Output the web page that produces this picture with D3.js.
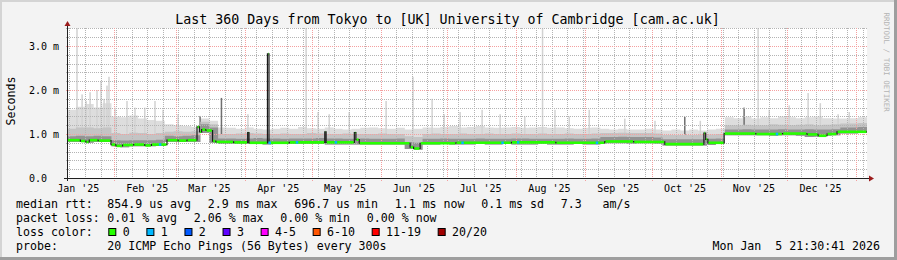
<!DOCTYPE html>
<html>
<head>
<meta charset="utf-8">
<script src="https://cdn.jsdelivr.net/npm/d3@7"></script>
<style>
  body { margin: 0; background: #f3f3f3; }
  svg { display: block; }
  text { font-family: "DejaVu Sans Mono", monospace; white-space: pre; }
</style>
</head>
<body>
<div id="chart"></div>
<script>
// time span of the graph (360 days ending at the render time)
const startTime = new Date(2025, 0, 10, 21, 30, 41);
const endTime = new Date(2026, 0, 5, 21, 30, 41);

const titleText = "Last 360 Days from Tokyo to [UK] University of Cambridge [cam.ac.uk]";
const monthLabels = ["Jan '25", "Feb '25", "Mar '25", "Apr '25", "May '25", "Jun '25",
  "Jul '25", "Aug '25", "Sep '25", "Oct '25", "Nov '25", "Dec '25"];
const yTickValues = [0, 1, 2, 3];
const yTickLabels = ["0.0", "1.0 m", "2.0 m", "3.0 m"];

// median rtt (ms), step points: day offset from start -> value
const medianDay = [0, 6, 8.5, 10, 14, 19.8, 22, 25, 30, 35, 38, 45, 50, 54, 58.5, 59.6, 60.6, 62.5,
  65.5, 67, 75, 81.3, 81.9, 90.2, 90.9, 100, 116, 116.6, 129.3, 130, 131.5, 154.4, 156, 158.9,
  175, 200, 220, 242, 255, 269, 286.6, 287.4, 288.4, 295.7, 310, 322, 333, 338, 342, 346.5, 360];
const medianMs = [0.86, 0.84, 0.82, 0.86, 0.85, 0.76, 0.73, 0.75, 0.76, 0.74, 0.76, 0.86, 0.85, 0.86, 1.16, 1.05, 1.10, 1.08,
  0.84, 0.82, 0.81, 1.03, 0.80, 2.82, 0.80, 0.81, 1.05, 0.81, 1.03, 0.87, 0.79, 0.70, 0.67, 0.79,
  0.80, 0.81, 0.80, 0.83, 0.82, 0.77, 1.02, 0.88, 0.80, 1.01, 1.00, 1.01, 0.99, 0.96, 1.00, 1.05, 1.05];

// smoke bands (ms), one value every 4 days from day 0 to day 360
const smokeStepDays = 4;
const smokeLo = [0.82, 0.82, 0.80, 0.82, 0.82,
  0.72, 0.70, 0.72, 0.72, 0.72, 0.73,
  0.82, 0.82, 0.82, 0.82,
  1.02, 0.80,
  0.77, 0.77, 0.77, 0.77, 0.77, 0.76, 0.77, 0.77, 0.77, 0.77, 0.77, 0.77, 0.76, 0.76, 0.76, 0.76, 0.76, 0.76, 0.76, 0.76, 0.76,
  0.66, 0.64,
  0.76, 0.76, 0.77, 0.76, 0.76, 0.76, 0.77, 0.76, 0.76, 0.77, 0.76, 0.76, 0.76, 0.77, 0.76, 0.76, 0.76, 0.77, 0.76, 0.76,
  0.79, 0.79, 0.79, 0.78, 0.79, 0.79, 0.78,
  0.74, 0.74, 0.74, 0.74, 0.74, 0.75, 0.77,
  0.97, 0.97, 0.97, 0.97, 0.97, 0.96, 0.97, 0.97, 0.96, 0.93, 0.94, 0.96, 0.97,
  1.01, 1.01, 1.02, 1.02];
const smokeDark = [0.95, 0.96, 0.95, 0.96, 0.95,
  0.86, 0.85, 0.86, 0.86, 0.86, 0.87,
  0.96, 0.95, 0.96, 0.97,
  1.22, 1.15,
  0.90, 0.90, 0.89, 0.90, 0.91, 0.90, 0.90, 0.89, 0.90, 0.90, 0.90, 0.91, 0.90, 0.90, 0.89, 0.89, 0.90, 0.89, 0.89, 0.89, 0.90,
  0.82, 0.80,
  0.89, 0.89, 0.90, 0.89, 0.89, 0.89, 0.90, 0.89, 0.89, 0.89, 0.90, 0.90, 0.89, 0.89, 0.89, 0.89, 0.90, 0.89, 0.89, 0.90,
  0.93, 0.93, 0.94, 0.93, 0.93, 0.93, 0.92,
  0.88, 0.88, 0.88, 0.88, 0.88, 0.89, 0.90,
  1.10, 1.10, 1.11, 1.10, 1.10, 1.10, 1.11, 1.10, 1.10, 1.11, 1.10, 1.10, 1.11,
  1.15, 1.15, 1.16, 1.16];
const smokeMid = [1.12, 1.15, 1.15, 1.13, 1.15,
  1.02, 1.00, 1.03, 1.02, 1.00, 1.02,
  1.05, 1.06, 1.05, 1.06,
  1.28, 1.22,
  1.00, 1.00, 1.01, 1.02, 1.01, 1.00, 1.00, 1.01, 1.00, 1.00, 1.02, 1.01, 1.00, 1.00, 1.01, 1.00, 1.00, 1.00, 1.01, 1.00, 1.00,
  0.95, 0.93,
  1.00, 1.01, 1.00, 1.00, 1.01, 1.00, 1.00, 1.01, 1.00, 1.00, 1.01, 1.00, 1.00, 1.01, 1.00, 1.00, 1.01, 1.00, 1.00, 1.01,
  1.02, 1.02, 1.03, 1.02, 1.02, 1.02, 1.01,
  0.98, 0.98, 0.98, 0.98, 0.99, 0.99, 1.00,
  1.20, 1.20, 1.21, 1.20, 1.20, 1.22, 1.21, 1.20, 1.21, 1.22, 1.20, 1.21, 1.22,
  1.24, 1.24, 1.25, 1.25];
const smokeHi = [1.55, 1.62, 1.68, 1.60, 1.70,
  1.40, 1.38, 1.42, 1.35, 1.32, 1.30,
  1.22, 1.20, 1.18, 1.16,
  1.35, 1.30,
  1.15, 1.14, 1.12, 1.15, 1.12, 1.10, 1.12, 1.14, 1.12, 1.16, 1.13, 1.12, 1.15, 1.12, 1.10, 1.12, 1.14, 1.15, 1.13, 1.12, 1.14,
  1.10, 1.12,
  1.15, 1.14, 1.16, 1.18, 1.15, 1.16, 1.18, 1.15, 1.14, 1.15, 1.16, 1.14, 1.15, 1.16, 1.14, 1.15, 1.13, 1.12, 1.14, 1.15,
  1.12, 1.10, 1.12, 1.10, 1.10, 1.12, 1.10,
  1.08, 1.10, 1.08, 1.10, 1.08, 1.10, 1.12,
  1.38, 1.36, 1.40, 1.35, 1.38, 1.36, 1.40, 1.38, 1.36, 1.38, 1.40, 1.36, 1.35,
  1.35, 1.36, 1.38, 1.38];

// single high pings (day offset, top in ms, shade)
const spikeDay = [4.5, 6.8, 8.6, 10.4, 13.5, 15.3, 16.7, 18, 18.9, 21.6, 27, 30.6, 35, 39.6, 43.2, 50,
  59.9, 69.5, 81.4, 107.6, 113, 118, 127, 143.6, 155.7, 164.3, 169.7, 176.9, 186.8, 194.9, 206,
  214, 219.6, 226, 235, 251, 264.6, 278, 285, 304.7, 311, 316, 325, 333.5, 339, 347, 352];
const spikeTop = [3.41, 1.90, 1.75, 1.95, 2.00, 2.20, 1.80, 2.10, 2.30, 1.60, 1.75, 1.60, 1.60, 1.75, 1.55, 1.45,
  1.41, 1.82, 1.45, 3.41, 1.50, 1.45, 1.50, 1.75, 2.30, 1.80, 1.45, 1.50, 1.55, 1.45, 1.40,
  3.41, 1.55, 1.40, 1.55, 1.35, 1.30, 1.39, 1.30, 1.60, 3.41, 1.55, 1.65, 1.93, 1.70, 1.45, 1.50];
const spikeShade = ["l", "l", "l", "l", "l", "l", "l", "l", "l", "l", "l", "l", "l", "l", "l", "l",
  "d", "d", "l", "l", "l", "l", "l", "l", "l", "l", "l", "l", "l", "l", "l",
  "l", "l", "l", "l", "l", "l", "d", "l", "d", "l", "l", "l", "l", "l", "l", "l"];

// samples with packet loss (day offset, lost pings)
const lossDay = [41.9, 91.2, 103.5, 121, 178, 196, 203, 238.5, 319.5];
const lossCount = [1, 1, 1, 1, 1, 1, 1, 1, 1];

const lossLabels = ["0", "1", "2", "3", "4-5", "6-10", "11-19", "20/20"];
const lossColors = ["#26ff00", "#00b8ff", "#0059ff", "#5e00ff", "#ff00ff", "#ff5500", "#ff0000", "#a10000"];

const rttStats = ["854.9 us avg", "2.9 ms max", "696.7 us min", "1.1 ms now", "0.1 ms sd", "7.3   am/s"];
const lossStats = ["0.01 % avg", "2.06 % max", "0.00 % min", "0.00 % now"];
const probeText = "20 ICMP Echo Pings (56 Bytes) every 300s";
const stampText = "Mon Jan  5 21:30:41 2026";

// ---------------------------------------------------------------------------
const W = 897, H = 260;
const plot = { left: 67, right: 867, top: 28, bottom: 178 };
const dayMs = 86400000;
const toDate = d => new Date(startTime.getTime() + d * dayMs);

const svg = d3.select("#chart").append("svg")
  .attr("width", W).attr("height", H);

// dotted grid patterns (1px on, 1px off)
const defs = svg.append("defs");
const dotPattern = (id, w, h, color) => defs.append("pattern")
  .attr("id", id).attr("patternUnits", "userSpaceOnUse")
  .attr("width", w).attr("height", h)
  .append("rect").attr("width", 1).attr("height", 1).attr("fill", color);
dotPattern("hGray", 2, 1, "#b4b4b4");
dotPattern("vGray", 1, 2, "#b4b4b4");
dotPattern("hRed", 2, 1, "#f4a0a0");
dotPattern("vRed", 1, 2, "#f4a0a0");

// background and frame
svg.append("rect").attr("width", W).attr("height", H).attr("fill", "#f3f3f3");
svg.append("rect").attr("x", 0).attr("y", 0).attr("width", W).attr("height", 2).attr("fill", "#d4d4d4");
svg.append("rect").attr("x", 0).attr("y", 0).attr("width", 2).attr("height", H).attr("fill", "#d4d4d4");
svg.append("rect").attr("x", W - 3).attr("y", 0).attr("width", 3).attr("height", H).attr("fill", "#9e9e9e");
svg.append("rect").attr("x", 0).attr("y", H - 3).attr("width", W).attr("height", 3).attr("fill", "#9e9e9e");

svg.append("rect")
  .attr("x", plot.left).attr("y", plot.top)
  .attr("width", plot.right - plot.left).attr("height", plot.bottom - plot.top)
  .attr("fill", "#ffffff");

const x = d3.scaleTime().domain([startTime, endTime]).range([plot.left, plot.right]);
const y = d3.scaleLinear().domain([0, 150 / 44]).range([plot.bottom, plot.top]);

// smoke
const smokeData = smokeLo.map((lo, i) => ({
  t: toDate(i * smokeStepDays), lo, dark: smokeDark[i], mid: smokeMid[i], hi: smokeHi[i]
}));
const band = key => d3.area().curve(d3.curveStepAfter)
  .x(d => x(d.t)).y0(d => y(d.lo)).y1(d => y(d[key]));

const medianPts = medianDay.map((d, i) => ({ t: toDate(d), v: medianMs[i] }));
const medianAt = d => medianPts[Math.max(0, d3.bisectRight(medianDay, d) - 1)].v;

svg.append("path").datum(smokeData).attr("d", band("hi")).attr("fill", "#dddddd");

svg.append("g").selectAll("rect")
  .data(spikeDay.map((d, i) => ({ d, top: spikeTop[i], shade: spikeShade[i] })))
  .join("rect")
  .attr("x", s => x(toDate(s.d)) - 0.75)
  .attr("width", 1.5)
  .attr("y", s => y(Math.min(s.top, 150 / 44)))
  .attr("height", s => y(medianAt(s.d)) - y(Math.min(s.top, 150 / 44)))
  .attr("fill", s => s.shade === "d" ? "#707070" : "#d2d2d2");

svg.append("path").datum(smokeData).attr("d", band("mid")).attr("fill", "#c4c4c4");
svg.append("path").datum(smokeData).attr("d", band("dark")).attr("fill", "#939393");

// grid: dotted gray minor lines (weeks, 0.2 ms), dotted red major lines (months, 1 ms)
const grid = svg.append("g");
const minorY = [0.2, 0.4, 0.6, 0.8, 1.2, 1.4, 1.6, 1.8, 2.2, 2.4, 2.6, 2.8, 3.2, 3.4];
const weekDates = d3.timeSunday.range(startTime, endTime);
const monthDates = d3.timeMonth.range(startTime, endTime);

grid.selectAll("rect.hmin").data(minorY).enter().append("rect")
  .attr("class", "hmin")
  .attr("x", plot.left - 2).attr("width", plot.right - plot.left + 2)
  .attr("y", d => Math.round(y(d))).attr("height", 1)
  .attr("fill", "url(#hGray)");
grid.selectAll("rect.vmin").data(weekDates).enter().append("rect")
  .attr("class", "vmin")
  .attr("x", d => Math.round(x(d))).attr("width", 1)
  .attr("y", plot.top).attr("height", plot.bottom - plot.top + 2)
  .attr("fill", "url(#vGray)");
grid.selectAll("rect.hmaj").data([1, 2, 3]).enter().append("rect")
  .attr("class", "hmaj")
  .attr("x", plot.left - 2).attr("width", plot.right - plot.left + 2)
  .attr("y", d => Math.round(y(d))).attr("height", 1)
  .attr("fill", "url(#hRed)");
grid.selectAll("rect.vmaj").data(monthDates).enter().append("rect")
  .attr("class", "vmaj")
  .attr("x", d => Math.round(x(d))).attr("width", 1)
  .attr("y", plot.top).attr("height", plot.bottom - plot.top + 4)
  .attr("fill", "url(#vRed)");

// median: dark step line, loss-coloured levels on top
svg.append("path").datum(medianPts)
  .attr("d", d3.line().curve(d3.curveStepAfter).x(d => x(d.t)).y(d => y(d.v)))
  .attr("fill", "none").attr("stroke", "#1a1a1a").attr("stroke-width", 1.2);
svg.append("g").selectAll("line")
  .data(medianPts.slice(0, -1).map((p, i) => ({ p, next: medianPts[i + 1] })))
  .join("line")
  .attr("x1", s => x(s.p.t) + 0.6).attr("x2", s => x(s.next.t) - 0.6)
  .attr("y1", s => y(s.p.v)).attr("y2", s => y(s.p.v))
  .attr("stroke", lossColors[0]).attr("stroke-width", 2.6);
svg.append("g").selectAll("rect")
  .data(lossDay.map((d, i) => ({ d, n: lossCount[i] })))
  .join("rect")
  .attr("x", s => x(toDate(s.d)) - 1.25).attr("width", 2.5)
  .attr("y", s => y(medianAt(s.d)) - 1.3).attr("height", 2.6)
  .attr("fill", s => lossColors[s.n]);

// axes
svg.append("line").attr("x1", plot.left + 0.5).attr("x2", plot.left + 0.5)
  .attr("y1", plot.bottom + 3).attr("y2", plot.top - 5)
  .attr("stroke", "#202020");
svg.append("line").attr("x1", plot.left - 3).attr("x2", plot.right + 3)
  .attr("y1", plot.bottom + 0.5).attr("y2", plot.bottom + 0.5)
  .attr("stroke", "#202020");
svg.append("path").attr("d", `M${plot.left - 2.5},${plot.top - 2}L${plot.left + 3.5},${plot.top - 2}L${plot.left + 0.5},${plot.top - 7}Z`)
  .attr("fill", "#9b1c1c");
svg.append("path").attr("d", `M${plot.right + 2},${plot.bottom - 2.5}L${plot.right + 2},${plot.bottom + 3.5}L${plot.right + 7},${plot.bottom + 0.5}Z`)
  .attr("fill", "#9b1c1c");

// axis labels
svg.append("g").selectAll("text").data(yTickValues).join("text")
  .attr("x", 29).attr("y", d => y(d) + 3.5)
  .attr("font-size", 10).attr("fill", "#000")
  .text((d, i) => yTickLabels[i]);
svg.append("g").selectAll("text").data(monthLabels).join("text")
  .attr("x", (d, i) => x(new Date(2025, i, 16)))
  .attr("y", 192)
  .attr("text-anchor", "middle").attr("font-size", 10).attr("fill", "#000")
  .text(d => d);

svg.append("text").attr("transform", "translate(15.3,101) rotate(-90)")
  .attr("text-anchor", "middle").attr("font-size", 11.6).text("Seconds");

svg.append("text").attr("x", 447.5).attr("y", 23.5)
  .attr("text-anchor", "middle").attr("font-size", 13.3).text(titleText);

svg.append("text").attr("transform", "translate(884,12.5) rotate(90)")
  .attr("font-size", 7.5).attr("fill", "#b4b4b4").text("RRDTOOL / TOBI OETIKER");

// legend
const cw = 6.98, gap = 16.7, lx = 16, vx = 107.3, fs = 11.6;
const legendRow = (label, items, yy) => {
  svg.append("text").attr("x", lx).attr("y", yy).attr("font-size", fs).text(label);
  let cx = vx;
  items.forEach(t => {
    svg.append("text").attr("x", cx).attr("y", yy).attr("font-size", fs).text(t);
    cx += t.length * cw + gap;
  });
};
legendRow("median rtt:", rttStats, 208);
legendRow("packet loss:", lossStats, 222);

svg.append("text").attr("x", lx).attr("y", 236).attr("font-size", fs).text("loss color:");
let sx = 108.3;
lossLabels.forEach((lab, i) => {
  svg.append("rect").attr("x", sx + 0.5).attr("y", 228.5).attr("width", 7).attr("height", 7)
    .attr("fill", lossColors[i]).attr("stroke", "#000").attr("stroke-width", 1);
  svg.append("text").attr("x", sx + 14.4).attr("y", 236).attr("font-size", fs).text(lab);
  sx += 14.4 + lab.length * cw + gap;
});

svg.append("text").attr("x", lx).attr("y", 250).attr("font-size", fs).text("probe:");
svg.append("text").attr("x", vx).attr("y", 250).attr("font-size", fs).text(probeText);
svg.append("text").attr("x", 880).attr("y", 250).attr("text-anchor", "end")
  .attr("font-size", fs).text(stampText);
</script>
</body>
</html>
